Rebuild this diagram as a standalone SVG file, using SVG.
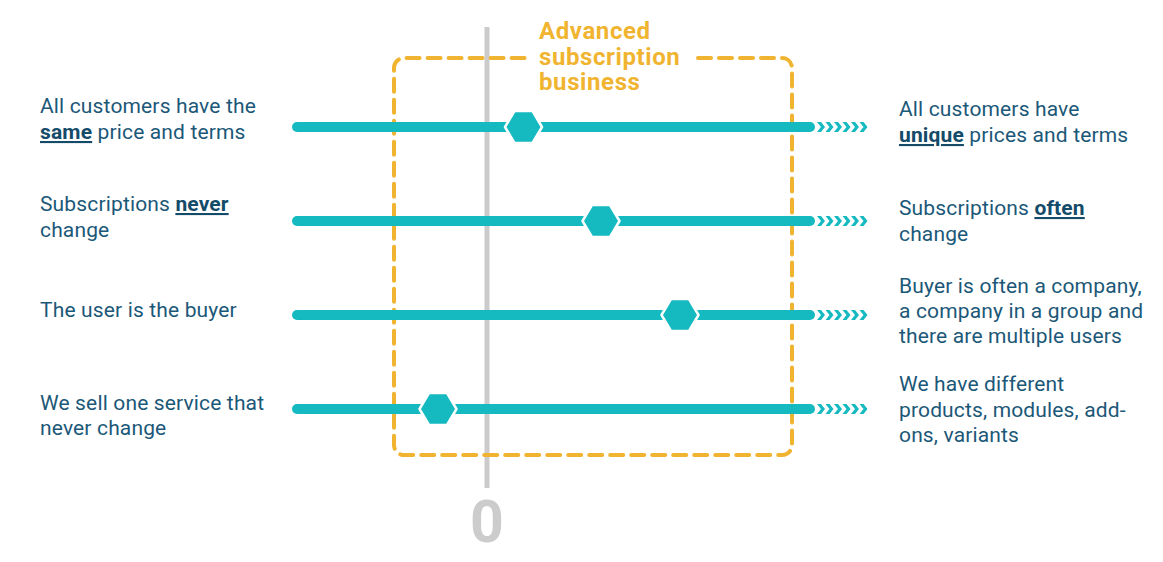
<svg xmlns="http://www.w3.org/2000/svg" width="1163" height="562" viewBox="0 0 1163 562">
<defs>
<style>
.lbl{font-family:Roboto,"Liberation Sans",sans-serif;font-size:21px;fill:#1b5878;letter-spacing:0.15px;}
.em{font-weight:bold;text-decoration:underline;fill:#144b69;}
.ttl{font-family:Roboto,"Liberation Sans",sans-serif;font-size:24px;font-weight:bold;fill:#f0b430;letter-spacing:0.6px;}
.zero{font-family:Roboto,"Liberation Sans",sans-serif;font-size:59px;font-weight:bold;fill:#cccccc;}
.bar{stroke:#15b9c0;stroke-width:10;stroke-linecap:round;fill:none;}
.chev{fill:#15b9c0;}
.hex{fill:#15b9c0;stroke:#ffffff;stroke-width:2.5;stroke-linejoin:round;}
.box{fill:none;stroke:#f0b430;stroke-width:4;stroke-dasharray:13 8;stroke-linecap:round;}
</style>
<g id="chevrons">
<polygon points="0,-5 4,-5 8,0 4,5 0,5 4,0"/>
<polygon points="8.5,-5 12.5,-5 16.5,0 12.5,5 8.5,5 12.5,0"/>
<polygon points="17,-5 21,-5 25,0 21,5 17,5 21,0"/>
<polygon points="25.5,-5 29.5,-5 33.5,0 29.5,5 25.5,5 29.5,0"/>
<polygon points="34,-5 38,-5 42,0 38,5 34,5 38,0"/>
<polygon points="42.5,-5 46.5,-5 50.5,0 46.5,5 42.5,5 46.5,0"/>
</g>
<polygon id="hexshape" points="-18.5,0 -9,-16 9,-16 18.5,0 9,16 -9,16"/>
</defs>
<rect width="1163" height="562" fill="#ffffff"/>

<g id="axis">
<line x1="487" y1="27" x2="487" y2="488" stroke="#cbcbcb" stroke-width="5"/>
<text class="zero" x="487" y="542" text-anchor="middle">0</text>
</g>

<g id="advanced-box">
<path class="box" d="M698,58 H782 A10,10 0 0 1 792,68 V445 A10,10 0 0 1 782,455 H404 A10,10 0 0 1 394,445 V68 A10,10 0 0 1 404,58 H526"/>
<text class="ttl" x="539" y="39">Advanced</text>
<text class="ttl" x="539" y="65">subscription</text>
<text class="ttl" x="539" y="90">business</text>
</g>

<g id="connectors">
<line class="bar" x1="297" y1="127" x2="810" y2="127"/>
<line class="bar" x1="297" y1="221" x2="810" y2="221"/>
<line class="bar" x1="297" y1="315" x2="810" y2="315"/>
<line class="bar" x1="297" y1="409" x2="810" y2="409"/>
<use href="#chevrons" class="chev" x="817" y="127"/>
<use href="#chevrons" class="chev" x="817" y="221"/>
<use href="#chevrons" class="chev" x="817" y="315"/>
<use href="#chevrons" class="chev" x="817" y="409"/>
</g>

<g id="marker-1"><use href="#hexshape" class="hex" x="523.5" y="127"/></g>
<g id="marker-2"><use href="#hexshape" class="hex" x="601" y="221"/></g>
<g id="marker-3"><use href="#hexshape" class="hex" x="680" y="315"/></g>
<g id="marker-4"><use href="#hexshape" class="hex" x="438" y="409"/></g>

<g id="left-1"><text class="lbl" x="40" y="113">All customers have the</text><text class="lbl" x="40" y="139"><tspan class="em">same</tspan> price and terms</text></g>
<g id="left-2"><text class="lbl" x="40" y="211">Subscriptions <tspan class="em">never</tspan></text><text class="lbl" x="40" y="237">change</text></g>
<g id="left-3"><text class="lbl" x="40" y="317">The user is the buyer</text></g>
<g id="left-4"><text class="lbl" x="40" y="410">We sell one service that</text><text class="lbl" x="40" y="435">never change</text></g>

<g id="right-1"><text class="lbl" x="899" y="116">All customers have</text><text class="lbl" x="899" y="142"><tspan class="em">unique</tspan> prices and terms</text></g>
<g id="right-2"><text class="lbl" x="899" y="215">Subscriptions <tspan class="em">often</tspan></text><text class="lbl" x="899" y="241">change</text></g>
<g id="right-3"><text class="lbl" x="899" y="293">Buyer is often a company,</text><text class="lbl" x="899" y="318">a company in a group and</text><text class="lbl" x="899" y="343">there are multiple users</text></g>
<g id="right-4"><text class="lbl" x="899" y="391">We have different</text><text class="lbl" x="899" y="417">products, modules, add-</text><text class="lbl" x="899" y="442">ons, variants</text></g>
</svg>
